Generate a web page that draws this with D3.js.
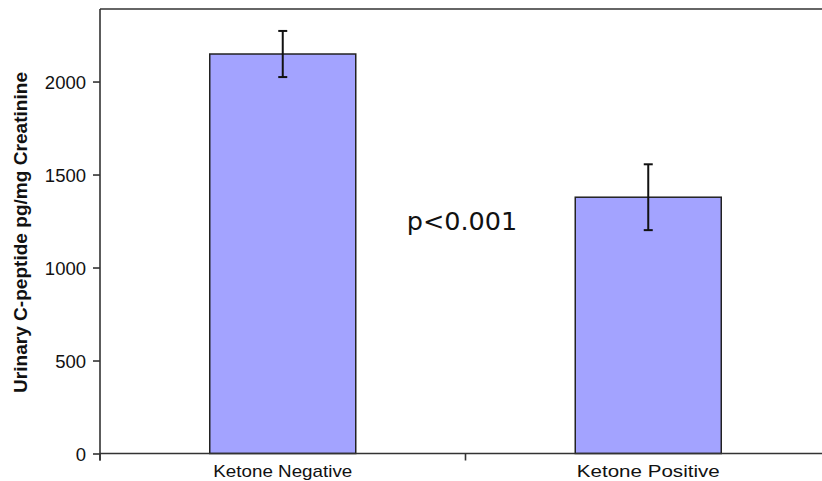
<!DOCTYPE html>
<html><head><meta charset="utf-8">
<script src="https://cdn.jsdelivr.net/npm/d3@7"></script>
<style>body{margin:0;background:#fff}svg{display:block}</style>
</head><body>
<svg id="c" width="822" height="481"></svg>
<script>
const categories = ["Ketone Negative", "Ketone Positive"];
const means = [2148, 1378];
const errors = [124, 177];
const yTicks = [0, 500, 1000, 1500, 2000];
const yLabel = "Urinary C-peptide pg/mg Creatinine";
const annotation = "p<0.001";

const svg = d3.select("#c");
const L = 100, R = 831, T = 9, B = 453.5;
const x = d3.scaleBand().domain(categories).range([L, R]).paddingInner(0).paddingOuter(0);
const y = d3.scaleLinear().domain([0, 2390]).range([B, T]);
const axisColor = "#333";

// frame top line
svg.append("line").attr("x1", L).attr("x2", 822).attr("y1", T).attr("y2", T)
  .attr("stroke", axisColor).attr("stroke-width", 1.6);

// bars
const bw = 146;
svg.selectAll("rect.bar").data(categories).join("rect")
  .attr("x", d => x(d) + x.bandwidth()/2 - bw/2)
  .attr("y", (d,i) => y(means[i]))
  .attr("width", bw)
  .attr("height", (d,i) => y(0) - y(means[i]))
  .attr("fill", "#a3a3ff").attr("stroke", "#222").attr("stroke-width", 1.5);

// error bars
categories.forEach((c,i) => {
  const cx = x(c) + x.bandwidth()/2;
  const g = svg.append("g").attr("stroke", "#111").attr("stroke-width", 2);
  g.append("line").attr("x1", cx).attr("x2", cx).attr("y1", y(means[i]+errors[i])).attr("y2", y(means[i]-errors[i]));
  g.append("line").attr("x1", cx-4.5).attr("x2", cx+4.5).attr("y1", y(means[i]+errors[i])).attr("y2", y(means[i]+errors[i]));
  g.append("line").attr("x1", cx-4.5).attr("x2", cx+4.5).attr("y1", y(means[i]-errors[i])).attr("y2", y(means[i]-errors[i]));
});

// y axis
const ya = svg.append("g").attr("transform", `translate(${L},0)`)
  .call(d3.axisLeft(y).tickValues(yTicks).tickFormat(d3.format("d")).tickSize(7).tickSizeOuter(0).tickPadding(7));
ya.select(".domain").attr("stroke", axisColor).attr("stroke-width", 1.6).attr("d", `M0,${T}V${B+7}`);
ya.selectAll(".tick line").attr("stroke", axisColor).attr("stroke-width", 1.6);
ya.selectAll(".tick text").attr("font-family", "Liberation Sans, Arial, sans-serif")
  .attr("font-size", 18.5).attr("fill", "#111").attr("dy", "0.36em");

// x axis
const xa = svg.append("g").attr("transform", `translate(0,${B})`)
  .call(d3.axisBottom(x).tickSize(0).tickSizeOuter(0).tickPadding(0));
xa.select(".domain").attr("stroke", axisColor).attr("stroke-width", 1.6).attr("d", `M${L},0H822`);
xa.selectAll(".tick text").remove();
const bounds = [L, x(categories[1]), R];
xa.selectAll("line.sep").data(bounds).join("line").attr("class","sep")
  .attr("x1", d => d).attr("x2", d => d).attr("y1", 0).attr("y2", 7)
  .attr("stroke", axisColor).attr("stroke-width", 1.6);
const catW = [139, 143];
xa.selectAll("text.cat").data(categories).join("text").attr("class","cat")
  .attr("x", d => x(d) + x.bandwidth()/2).attr("y", 23.5)
  .attr("text-anchor", "middle")
  .attr("font-family", "Liberation Sans, Arial, sans-serif").attr("font-size", 17)
  .attr("fill", "#111")
  .attr("textLength", (d,i) => catW[i]).attr("lengthAdjust", "spacingAndGlyphs")
  .text(d => d);

// y label
svg.append("text")
  .attr("transform", `translate(26.5,232.5) rotate(-90)`)
  .attr("text-anchor", "middle")
  .attr("font-family", "Liberation Sans, Arial, sans-serif").attr("font-weight", "bold")
  .attr("font-size", 17.5).attr("fill", "#111")
  .attr("textLength", 321).attr("lengthAdjust", "spacingAndGlyphs")
  .text(yLabel);

// annotation
svg.append("text").attr("x", 462).attr("y", 230).attr("text-anchor", "middle")
  .attr("font-family", "DejaVu Sans, sans-serif").attr("font-size", 25.5).attr("fill", "#111")
  .text(annotation);
</script>
</body></html>
